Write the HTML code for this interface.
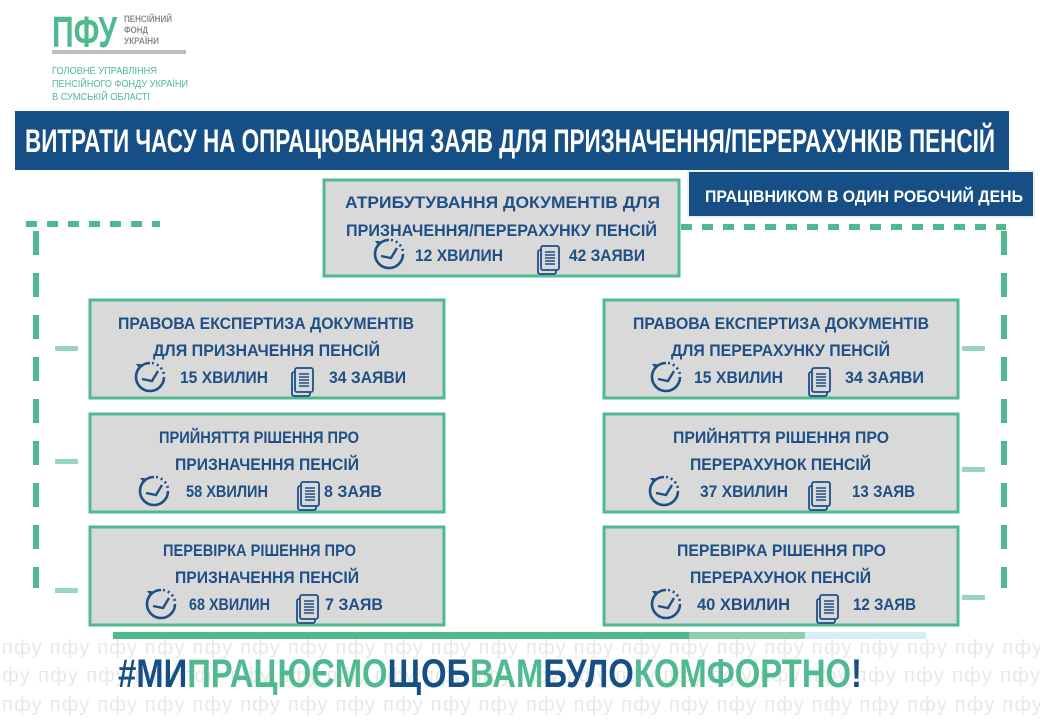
<!DOCTYPE html>
<html><head><meta charset="utf-8"><style>
html,body{margin:0;padding:0;background:#fff;}
svg{display:block;}
text{font-family:"Liberation Sans",sans-serif;font-weight:bold;}
text.n{font-weight:normal;}
</style></head><body>
<svg width="1040" height="720" viewBox="0 0 1040 720" xmlns="http://www.w3.org/2000/svg">
<defs>
<g id="clk">
 <path d="M 0 -14 A 14 14 0 1 0 14 0" fill="none" stroke="#1e4f85" stroke-width="2.6"/>
 <path d="M 2 -14 A 14 14 0 0 1 14 -2" fill="none" stroke="#1e4f85" stroke-width="2.6" stroke-dasharray="2 3"/>
 <path d="M -11 -9 l -3 -4 l 5 0 z" fill="#1e4f85"/>
 <path d="M -8 2 L 2 4 L 8 -6" fill="none" stroke="#1e4f85" stroke-width="2.4"/>
</g>
<g id="doc">
 <rect x="-10" y="-8" width="18" height="24" rx="2" fill="#d9d9d9" stroke="#1e4f85" stroke-width="1.8"/>
 <rect x="-7" y="-12" width="18" height="24" rx="2" fill="#d9d9d9" stroke="#1e4f85" stroke-width="1.8"/>
 <path d="M -3 -6 h10 M -3 -3 h10 M -3 0 h10 M -3 3 h10 M -3 6 h10" stroke="#1e4f85" stroke-width="1.5"/>
</g>
</defs>

<!-- logo -->
<text x="52" y="47" font-size="44" fill="#4fba8f" textLength="65" lengthAdjust="spacingAndGlyphs">ПФУ</text>
<rect x="52" y="50" width="134" height="4" fill="#bdbdbd"/>
<g fill="#8a8a8a" font-size="9">
<text x="124" y="22" textLength="48" lengthAdjust="spacingAndGlyphs">ПЕНСІЙНИЙ</text>
<text x="124" y="33" textLength="24" lengthAdjust="spacingAndGlyphs">ФОНД</text>
<text x="124" y="44" textLength="35" lengthAdjust="spacingAndGlyphs">УКРАЇНИ</text>
</g>
<g fill="#4fba8f" font-size="10">
<text class="n" x="52" y="74" textLength="105" lengthAdjust="spacingAndGlyphs">ГОЛОВНЕ УПРАВЛІННЯ</text>
<text class="n" x="52" y="87" textLength="136" lengthAdjust="spacingAndGlyphs">ПЕНСІЙНОГО ФОНДУ УКРАЇНИ</text>
<text class="n" x="52" y="100" textLength="98" lengthAdjust="spacingAndGlyphs">В СУМСЬКІЙ ОБЛАСТІ</text>
</g>

<!-- title -->
<rect x="15" y="111" width="994" height="59" fill="#154f85"/>
<text x="25" y="152" font-size="32" fill="#fff" textLength="970" lengthAdjust="spacingAndGlyphs">ВИТРАТИ ЧАСУ НА ОПРАЦЮВАННЯ ЗАЯВ ДЛЯ ПРИЗНАЧЕННЯ/ПЕРЕРАХУНКІВ  ПЕНСІЙ</text>

<!-- dashed frame -->
<g stroke="#4fba8f" stroke-width="6">
<line x1="26" y1="224" x2="160" y2="224" stroke-dasharray="11 10"/>
<line x1="345" y1="227" x2="1006" y2="227" stroke-dasharray="11 10"/>
<line x1="36" y1="231" x2="36" y2="588" stroke-dasharray="24 18"/>
<line x1="1004" y1="231" x2="1004" y2="588" stroke-dasharray="24 18"/>
</g>
<g fill="#97d7bf">
<rect x="55" y="346" width="23" height="5"/><rect x="55" y="459" width="23" height="5"/><rect x="55" y="588" width="23" height="5"/>
<rect x="962" y="346" width="23" height="5"/><rect x="962" y="467" width="23" height="5"/><rect x="962" y="595" width="23" height="5"/>
</g>

<!-- badge -->
<rect x="687" y="170" width="348" height="48" fill="#eee"/>
<rect x="689" y="172" width="344" height="44" fill="#154f85"/>
<text x="705" y="202" font-size="17" fill="#fff" textLength="318" lengthAdjust="spacingAndGlyphs">ПРАЦІВНИКОМ В ОДИН РОБОЧИЙ ДЕНЬ</text>

<!-- boxes -->
<g fill="#d9d9d9" stroke="#4fba8f" stroke-width="3">
<rect x="324" y="180" width="355" height="96"/>
<rect x="90" y="300" width="354" height="98"/>
<rect x="90" y="414" width="354" height="98"/>
<rect x="90" y="527" width="354" height="98"/>
<rect x="604" y="300" width="354" height="98"/>
<rect x="604" y="414" width="354" height="98"/>
<rect x="604" y="527" width="354" height="98"/>
</g>

<g fill="#1e4f85" font-size="17">
<text x="345" y="208" textLength="315" lengthAdjust="spacingAndGlyphs">АТРИБУТУВАННЯ ДОКУМЕНТІВ ДЛЯ</text>
<text x="346" y="236" textLength="311" lengthAdjust="spacingAndGlyphs">ПРИЗНАЧЕННЯ/ПЕРЕРАХУНКУ ПЕНСІЙ</text>
<text x="415" y="261" textLength="88" lengthAdjust="spacingAndGlyphs">12 ХВИЛИН</text>
<text x="569" y="261" textLength="76" lengthAdjust="spacingAndGlyphs">42 ЗАЯВИ</text>
<text x="118" y="329" textLength="296" lengthAdjust="spacingAndGlyphs">ПРАВОВА ЕКСПЕРТИЗА ДОКУМЕНТІВ</text>
<text x="153" y="356" textLength="227" lengthAdjust="spacingAndGlyphs">ДЛЯ ПРИЗНАЧЕННЯ  ПЕНСІЙ</text>
<text x="180" y="383" textLength="88" lengthAdjust="spacingAndGlyphs">15 ХВИЛИН</text>
<text x="329" y="383" textLength="77" lengthAdjust="spacingAndGlyphs">34 ЗАЯВИ</text>
<text x="159" y="443" textLength="200" lengthAdjust="spacingAndGlyphs">ПРИЙНЯТТЯ РІШЕННЯ ПРО</text>
<text x="175" y="470" textLength="184" lengthAdjust="spacingAndGlyphs">ПРИЗНАЧЕННЯ ПЕНСІЙ</text>
<text x="186" y="497" textLength="82" lengthAdjust="spacingAndGlyphs">58 ХВИЛИН</text>
<text x="324" y="497" textLength="58" lengthAdjust="spacingAndGlyphs">8 ЗАЯВ</text>
<text x="163" y="556" textLength="193" lengthAdjust="spacingAndGlyphs">ПЕРЕВІРКА РІШЕННЯ ПРО</text>
<text x="175" y="583" textLength="184" lengthAdjust="spacingAndGlyphs">ПРИЗНАЧЕННЯ ПЕНСІЙ</text>
<text x="189" y="610" textLength="81" lengthAdjust="spacingAndGlyphs">68 ХВИЛИН</text>
<text x="325" y="610" textLength="58" lengthAdjust="spacingAndGlyphs">7 ЗАЯВ</text>
<text x="633" y="329" textLength="296" lengthAdjust="spacingAndGlyphs">ПРАВОВА ЕКСПЕРТИЗА ДОКУМЕНТІВ</text>
<text x="671" y="356" textLength="219" lengthAdjust="spacingAndGlyphs">ДЛЯ ПЕРЕРАХУНКУ ПЕНСІЙ</text>
<text x="694" y="383" textLength="89" lengthAdjust="spacingAndGlyphs">15 ХВИЛИН</text>
<text x="845" y="383" textLength="79" lengthAdjust="spacingAndGlyphs">34 ЗАЯВИ</text>
<text x="673" y="443" textLength="216" lengthAdjust="spacingAndGlyphs">ПРИЙНЯТТЯ РІШЕННЯ ПРО</text>
<text x="690" y="470" textLength="181" lengthAdjust="spacingAndGlyphs">ПЕРЕРАХУНОК ПЕНСІЙ</text>
<text x="700" y="497" textLength="88" lengthAdjust="spacingAndGlyphs">37 ХВИЛИН</text>
<text x="852" y="497" textLength="63" lengthAdjust="spacingAndGlyphs">13 ЗАЯВ</text>
<text x="677" y="556" textLength="209" lengthAdjust="spacingAndGlyphs">ПЕРЕВІРКА РІШЕННЯ ПРО</text>
<text x="690" y="583" textLength="181" lengthAdjust="spacingAndGlyphs">ПЕРЕРАХУНОК ПЕНСІЙ</text>
<text x="697" y="610" textLength="93" lengthAdjust="spacingAndGlyphs">40 ХВИЛИН</text>
<text x="853" y="610" textLength="63" lengthAdjust="spacingAndGlyphs">12 ЗАЯВ</text>
</g>

<use href="#clk" x="389" y="254"/><use href="#doc" x="548" y="258"/>
<use href="#clk" x="150" y="377"/><use href="#doc" x="302" y="380"/>
<use href="#clk" x="154" y="491"/><use href="#doc" x="308" y="494"/>
<use href="#clk" x="161" y="604"/><use href="#doc" x="307" y="607"/>
<use href="#clk" x="666" y="377"/><use href="#doc" x="819" y="380"/>
<use href="#clk" x="664" y="491"/><use href="#doc" x="819" y="494"/>
<use href="#clk" x="666" y="604"/><use href="#doc" x="827" y="607"/>

<!-- watermark -->
<g fill="#e8e8e8" font-size="20">
<text class="n" x="2" y="654" textLength="1040" lengthAdjust="spacing">пфу пфу пфу пфу пфу пфу пфу пфу пфу пфу пфу пфу пфу пфу пфу пфу пфу пфу пфу пфу пфу пфу</text>
<text class="n" x="-10" y="682" textLength="1050" lengthAdjust="spacing">пфу пфу пфу пфу пфу пфу пфу пфу пфу пфу пфу пфу пфу пфу пфу пфу пфу пфу пфу пфу пфу пфу</text>
<text class="n" x="2" y="711" textLength="1040" lengthAdjust="spacing">пфу пфу пфу пфу пфу пфу пфу пфу пфу пфу пфу пфу пфу пфу пфу пфу пфу пфу пфу пфу пфу пфу</text>
</g>

<rect x="113" y="632" width="576" height="7" fill="#4fba8f"/>
<rect x="689" y="632" width="116" height="7" fill="#8fcfae"/>
<rect x="805" y="632" width="121" height="7" fill="#d6ecf8"/>

<text x="118" y="687" font-size="40" textLength="744" lengthAdjust="spacingAndGlyphs"><tspan fill="#154f85">#МИ</tspan><tspan fill="#4fba8f">ПРАЦЮЄМО</tspan><tspan fill="#154f85">ЩОБ</tspan><tspan fill="#4fba8f">ВАМ</tspan><tspan fill="#154f85">БУЛО</tspan><tspan fill="#4fba8f">КОМФОРТНО</tspan><tspan fill="#154f85">!</tspan></text>
</svg>
</body></html>
